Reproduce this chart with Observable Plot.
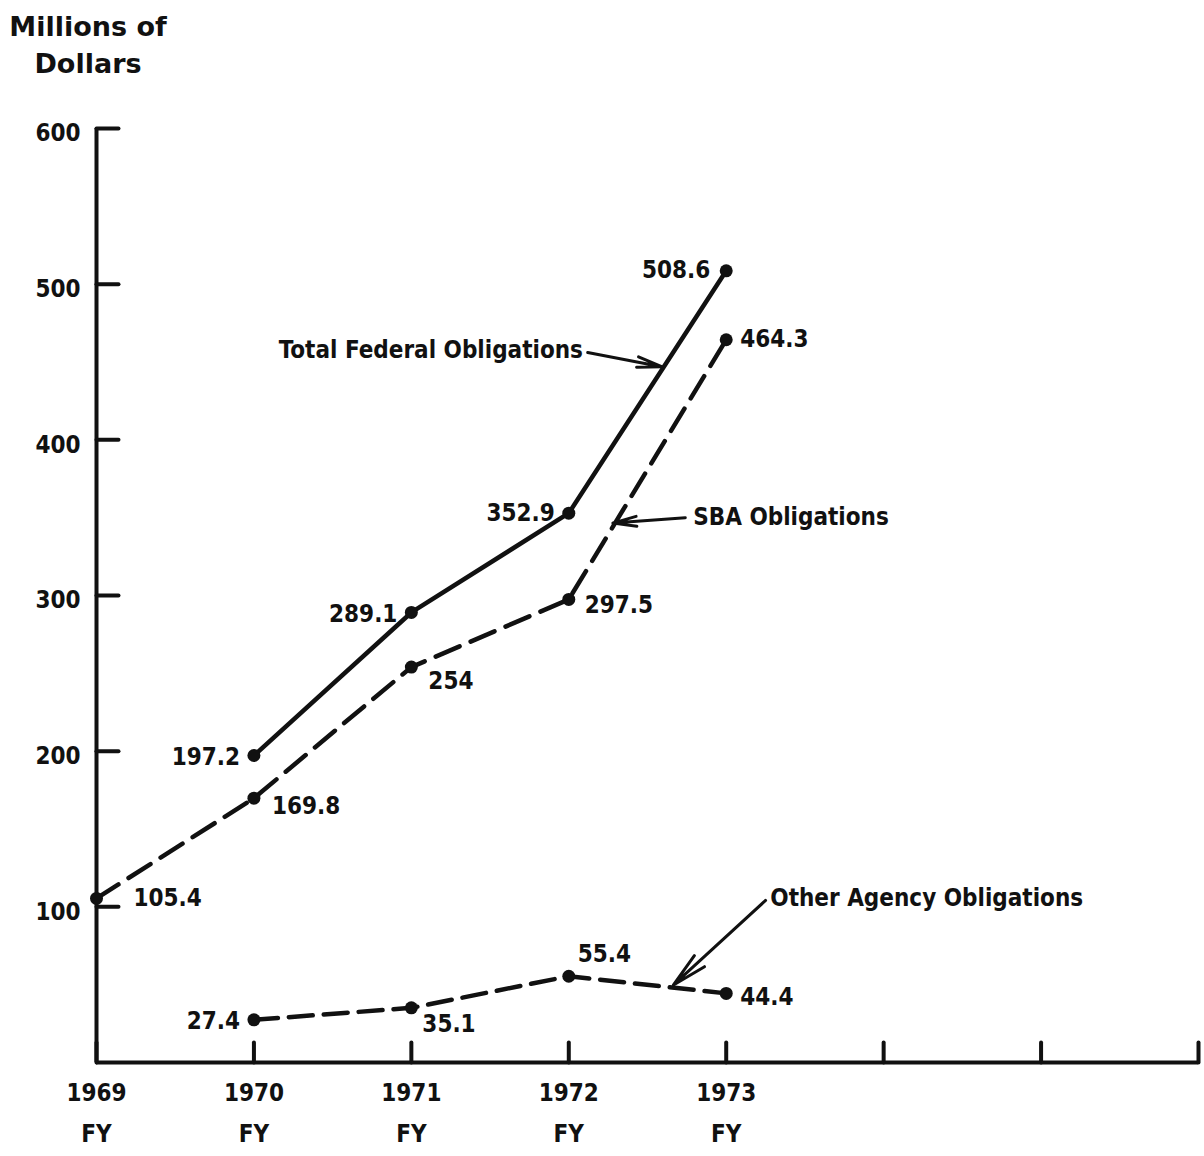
<!DOCTYPE html>
<html><head><meta charset="utf-8">
<script src="https://cdn.jsdelivr.net/npm/d3@7"></script>
<script src="https://cdn.jsdelivr.net/npm/@observablehq/plot@0.6"></script>
<style>
body{margin:0;background:#fff;}
#wrap{position:relative;width:1204px;height:1156px;background:#fff;}
#title{position:absolute;left:0;top:8px;width:176px;text-align:center;font-family:"DejaVu Sans",sans-serif;font-weight:bold;font-size:27px;line-height:37px;color:#111;}
#chart{position:absolute;left:0;top:90px;}
</style></head><body>
<div id="wrap"><div id="title">Millions of<br>Dollars</div><div id="chart"></div></div>
<script>
// ---- data ----
const xTickYears = [1969, 1970, 1971, 1972, 1973, 1974, 1975, 1976];
const labeledYears = [1969, 1970, 1971, 1972, 1973];
const yTickValues = [100, 200, 300, 400, 500, 600];

const totalYears = [1970, 1971, 1972, 1973];
const totalValues = [197.2, 289.1, 352.9, 508.6];

const sbaYears = [1969, 1970, 1971, 1972, 1973];
const sbaValues = [105.4, 169.8, 254, 297.5, 464.3];

const otherYears = [1970, 1971, 1972, 1973];
const otherValues = [27.4, 35.1, 55.4, 44.4];

const seriesNames = ["Total Federal Obligations", "SBA Obligations", "Other Agency Obligations"];
// annotation: label anchor point and arrow ends (in data units)
const annotTextX = [1972.09, 1972.79, 1973.28];
const annotTextY = [457.4, 350.1, 105.4];
const arrowFromX = [1972.12, 1972.74, 1973.25];
const arrowFromY = [456.1, 350.0, 104.1];
const arrowToX = [1972.59, 1972.28, 1972.665];
const arrowToY = [447.0, 346.5, 49.8];

// ---- build tables ----
const toRows = (ys, vs, s) => ys.map((y, i) => ({series: s, year: y, value: vs[i]}));
const total = toRows(totalYears, totalValues, "total");
const sba = toRows(sbaYears, sbaValues, "sba");
const other = toRows(otherYears, otherValues, "other");

// label placement (style): [dx, dy, anchor]
const place = {
  total: [[-14, 2, "end"], [-14, 2, "end"], [-14, 0, "end"], [-16, 0, "end"]],
  sba: [[37, 0, "start"], [18, 8, "start"], [17, 14, "start"], [16, 6, "start"], [14, 0, "start"]],
  other: [[-14, 1, "end"], [11, 16, "start"], [9, -22, "start"], [14, 4, "start"]]
};

const F = "'Liberation Sans Narrow','DejaVu Sans Condensed',sans-serif";
const INK = "#111";
const FS = 24;
const tickShape = {draw(ctx, l) { ctx.moveTo(0, 0); ctx.lineTo(0, -l); }};

const labelMarks = [];
for (const [key, rows] of [["total", total], ["sba", sba], ["other", other]]) {
  rows.forEach((d, i) => {
    const [dx, dy, anchor] = place[key][i];
    labelMarks.push(Plot.text([d], {x: "year", y: "value", text: (r) => String(r.value),
      dx, dy, textAnchor: anchor, fontSize: FS, fontWeight: "bold", fill: INK}));
  });
}

const annots = seriesNames.map((n, i) => ({name: n, tx: annotTextX[i], ty: annotTextY[i],
  x1: arrowFromX[i], y1: arrowFromY[i], x2: arrowToX[i], y2: arrowToY[i]}));

const chart = Plot.plot({
  width: 1204, height: 1066,
  marginTop: 38, marginBottom: 94, marginLeft: 96, marginRight: 6,
  x: {domain: [1969, 1976], label: null},
  y: {domain: [0, 600], label: null},
  style: {fontFamily: F, color: INK, background: "#fff", overflow: "visible"},
  marks: [
    Plot.ruleY([0], {stroke: INK, strokeWidth: 4}),
    Plot.ruleX([1969], {stroke: INK, strokeWidth: 4}),
    Plot.vector(xTickYears, {x: (d) => d, y: 0, length: 20, rotate: 0, anchor: "start", shape: tickShape, stroke: INK, strokeWidth: 4}),
    Plot.vector(yTickValues, {x: 1969, y: (d) => d, length: 22, rotate: 90, anchor: "start", shape: tickShape, stroke: INK, strokeWidth: 4}),
    Plot.axisX({ticks: labeledYears, tickSize: 0, tickPadding: 10, tickFormat: (d) => `${d}\nFY`, fontSize: FS, fontWeight: "bold", lineHeight: 1.7, label: null}),
    Plot.axisY({ticks: yTickValues, tickSize: 0, tickPadding: 16, tickFormat: (d) => String(d), fontSize: FS, fontWeight: "bold", dy: 5, label: null}),
    Plot.line(total, {x: "year", y: "value", stroke: INK, strokeWidth: 4.5}),
    Plot.line(sba, {x: "year", y: "value", stroke: INK, strokeWidth: 4.5, strokeDasharray: "26,12"}),
    Plot.line(other, {x: "year", y: "value", stroke: INK, strokeWidth: 4.5, strokeDasharray: "24,11"}),
    Plot.dot([...total, ...sba, ...other], {x: "year", y: "value", r: 6.5, fill: INK}),
    ...labelMarks,
    Plot.arrow(annots, {x1: "x1", y1: "y1", x2: "x2", y2: "y2", stroke: INK, strokeWidth: 3, headLength: 18, headAngle: 24}),
    Plot.text([annots[0]], {x: "tx", y: "ty", text: "name", textAnchor: "end", fontSize: FS, fontWeight: "bold", fill: INK}),
    Plot.text(annots.slice(1), {x: "tx", y: "ty", text: "name", textAnchor: "start", fontSize: FS, fontWeight: "bold", fill: INK})
  ]
});
document.getElementById("chart").appendChild(chart);
</script>
</body></html>
